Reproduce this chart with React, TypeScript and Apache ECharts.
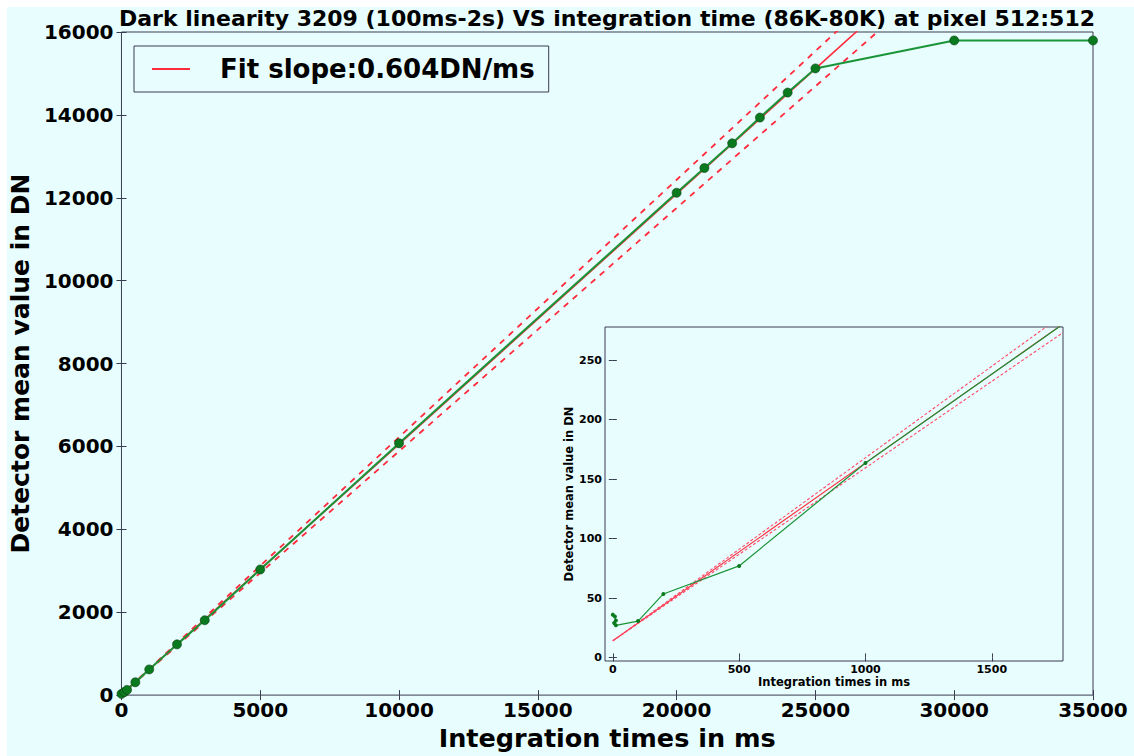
import React, { useEffect, useRef } from 'react';
import * as echarts from 'echarts';

const FONT = 'DejaVu Sans';
const BG = '#e8fdfd';
const AXIS = '#3a3d52';
const GREEN_LINE = '#1a9438';
const GREEN_MARK = '#0a7a1e';
const RED = '#ff2a3c';

const TITLE = 'Dark linearity 3209 (100ms-2s) VS integration time (86K-80K) at pixel 512:512';
const LEGEND_LABEL = 'Fit slope:0.604DN/ms';
const X_NAME = 'Integration times in ms';
const Y_NAME = 'Detector mean value in DN';

// Main panel: measured points
const MAIN_TIMES = [0, 100, 200, 500, 1000, 2000, 3000, 5000, 10000, 20000, 21000, 22000, 23000, 24000, 25000, 30000, 35000];
const MAIN_DN = [30, 72, 126, 310, 620, 1224, 1807, 3031, 6077, 12121, 12718, 13314, 13935, 14539, 15121, 15796, 15796];

// Main panel: fit line and its bounds (end points)
const MAIN_FIT_X = [0, 35000];
const MAIN_FIT = [15, 21155];
const MAIN_FIT_UP = [15, 21750];
const MAIN_FIT_LOW = [15, 20560];

// Main axes
const MAIN_X_TICKS = [0, 5000, 10000, 15000, 20000, 25000, 30000, 35000];
const MAIN_Y_TICKS = [0, 2000, 4000, 6000, 8000, 10000, 12000, 14000, 16000];

// Inset panel: measured points
const INSET_TIMES = [0, 8, 12, 5, 12, 100, 200, 500, 1000, 2000];
const INSET_DN = [36, 34.5, 31, 29, 27, 30.6, 53.4, 77, 163.6, 313];

// Inset panel: fit line and bounds (end points)
const INSET_FIT_X = [0, 1782];
const INSET_FIT = [14, 280.6];
const INSET_FIT_UP = [14, 288.4];
const INSET_FIT_LOW = [14, 273.3];

// Inset axes
const INSET_X_TICKS = [0, 500, 1000, 1500];
const INSET_Y_TICKS = [0, 50, 100, 150, 200, 250];

const pairs = (xs: number[], ys: number[]) => xs.map((x, i) => [x, ys[i]]);
const plain = (v: number) => String(v);

export default function App() {
  const ref = useRef<HTMLDivElement>(null);

  useEffect(() => {
    if (!ref.current) return;
    const chart = echarts.init(ref.current, undefined, { renderer: 'svg' });

    const tickStyle = { lineStyle: { color: AXIS, width: 1 } };

    const mainXAxisBase = {
      type: 'value' as const,
      gridIndex: 0,
      min: 0,
      max: 35000,
      interval: 5000,
      splitLine: { show: false },
      axisLine: { show: false },
    };
    const mainYAxisBase = {
      type: 'value' as const,
      gridIndex: 0,
      min: 0,
      max: 16000,
      interval: 2000,
      splitLine: { show: false },
      axisLine: { show: false },
    };
    const insetXBase = {
      type: 'value' as const,
      gridIndex: 1,
      min: -31,
      max: 1782,
      splitLine: { show: false },
      axisLine: { show: false },
    };
    const insetYBase = {
      type: 'value' as const,
      gridIndex: 1,
      min: -3,
      max: 278,
      splitLine: { show: false },
      axisLine: { show: false },
    };

    const option: any = {
      animation: false,
      backgroundColor: 'transparent',
      title: {
        text: TITLE,
        left: 607,
        textAlign: 'center',
        top: 7,
        padding: 0,
        textStyle: { fontFamily: FONT, fontWeight: 'bold', fontSize: 22, color: '#000' },
      },
      legend: {
        data: [LEGEND_LABEL],
        left: 134,
        top: 46,
        icon: 'rect',
        itemWidth: 38,
        itemHeight: 2,
        padding: [10, 14, 10, 18],
        borderColor: AXIS,
        borderWidth: 1,
        backgroundColor: BG,
        borderRadius: 0,
        selectedMode: false,
        textStyle: {
          fontFamily: FONT,
          fontWeight: 'bold',
          fontSize: 26,
          color: '#000',
          padding: [0, 0, 0, 25],
        },
      },
      grid: [
        {
          left: 121,
          top: 32,
          width: 972,
          height: 671,
          show: true,
          borderColor: AXIS,
          borderWidth: 1,
          backgroundColor: 'transparent',
        },
        {
          left: 605,
          top: 327,
          width: 458,
          height: 334,
          show: true,
          borderColor: AXIS,
          borderWidth: 1,
          backgroundColor: BG,
        },
      ],
      xAxis: [
        {
          ...mainXAxisBase,
          position: 'bottom',
          name: X_NAME,
          nameLocation: 'middle',
          nameGap: 27,
          nameTextStyle: { fontFamily: FONT, fontWeight: 'bold', fontSize: 25.5, color: '#000' },
          axisTick: { inside: true, length: 5, customValues: MAIN_X_TICKS, ...tickStyle },
          axisLabel: {
            margin: 5,
            customValues: MAIN_X_TICKS,
            formatter: plain,
            fontFamily: FONT,
            fontWeight: 'bold',
            fontSize: 20,
            color: '#000',
          },
        },
        {
          ...mainXAxisBase,
          position: 'top',
          axisTick: { inside: true, length: 5, ...tickStyle },
          axisLabel: { show: false },
        },
        {
          ...insetXBase,
          position: 'bottom',
          name: X_NAME,
          nameLocation: 'middle',
          nameGap: 15,
          nameTextStyle: { fontFamily: FONT, fontWeight: 'bold', fontSize: 11.5, color: '#000' },
          axisTick: { inside: true, length: 4, customValues: INSET_X_TICKS, ...tickStyle },
          axisLabel: {
            margin: 3,
            customValues: INSET_X_TICKS,
            formatter: plain,
            fontFamily: FONT,
            fontWeight: 'bold',
            fontSize: 11,
            color: '#000',
          },
        },
        {
          ...insetXBase,
          position: 'top',
          axisTick: { inside: true, length: 4, customValues: INSET_X_TICKS, ...tickStyle },
          axisLabel: { show: false, customValues: INSET_X_TICKS },
        },
      ],
      yAxis: [
        {
          ...mainYAxisBase,
          position: 'left',
          name: Y_NAME,
          nameLocation: 'middle',
          nameRotate: 90,
          nameGap: 82,
          nameTextStyle: { fontFamily: FONT, fontWeight: 'bold', fontSize: 25, color: '#000' },
          axisTick: { inside: true, length: 5, customValues: MAIN_Y_TICKS, ...tickStyle },
          axisLabel: {
            margin: 8,
            customValues: MAIN_Y_TICKS,
            formatter: plain,
            fontFamily: FONT,
            fontWeight: 'bold',
            fontSize: 20,
            color: '#000',
          },
        },
        {
          ...mainYAxisBase,
          position: 'right',
          axisTick: { inside: true, length: 5, ...tickStyle },
          axisLabel: { show: false },
        },
        {
          ...insetYBase,
          position: 'left',
          name: Y_NAME,
          nameLocation: 'middle',
          nameRotate: 90,
          nameGap: 29,
          nameTextStyle: { fontFamily: FONT, fontWeight: 'bold', fontSize: 11.5, color: '#000' },
          axisTick: { inside: true, length: 4, customValues: INSET_Y_TICKS, ...tickStyle },
          axisLabel: {
            margin: 3,
            customValues: INSET_Y_TICKS,
            formatter: plain,
            fontFamily: FONT,
            fontWeight: 'bold',
            fontSize: 11,
            color: '#000',
          },
        },
        {
          ...insetYBase,
          position: 'right',
          axisTick: { inside: true, length: 4, customValues: INSET_Y_TICKS, ...tickStyle },
          axisLabel: { show: false, customValues: INSET_Y_TICKS },
        },
      ],
      series: [
        {
          name: LEGEND_LABEL,
          type: 'line',
          xAxisIndex: 0,
          yAxisIndex: 0,
          data: pairs(MAIN_FIT_X, MAIN_FIT),
          showSymbol: false,
          symbol: 'none',
          clip: true,
          itemStyle: { color: RED },
          lineStyle: { color: RED, width: 1.6 },
        },
        {
          name: 'fit upper',
          type: 'line',
          xAxisIndex: 0,
          yAxisIndex: 0,
          data: pairs(MAIN_FIT_X, MAIN_FIT_UP),
          symbol: 'none',
          clip: true,
          lineStyle: { color: RED, width: 1.8, type: [6, 6] },
        },
        {
          name: 'fit lower',
          type: 'line',
          xAxisIndex: 0,
          yAxisIndex: 0,
          data: pairs(MAIN_FIT_X, MAIN_FIT_LOW),
          symbol: 'none',
          clip: true,
          lineStyle: { color: RED, width: 1.8, type: [6, 6] },
        },
        {
          name: 'data',
          type: 'line',
          xAxisIndex: 0,
          yAxisIndex: 0,
          data: pairs(MAIN_TIMES, MAIN_DN),
          symbol: 'circle',
          symbolSize: 9,
          clip: false,
          lineStyle: { color: GREEN_LINE, width: 2 },
          itemStyle: { color: GREEN_MARK, borderColor: '#0b3d12', borderWidth: 0.6 },
        },
        {
          name: 'inset fit',
          type: 'line',
          xAxisIndex: 2,
          yAxisIndex: 2,
          data: pairs(INSET_FIT_X, INSET_FIT),
          symbol: 'none',
          clip: true,
          lineStyle: { color: RED, width: 1.1 },
        },
        {
          name: 'inset fit upper',
          type: 'line',
          xAxisIndex: 2,
          yAxisIndex: 2,
          data: pairs(INSET_FIT_X, INSET_FIT_UP),
          symbol: 'none',
          clip: true,
          lineStyle: { color: '#ff4a6a', width: 1.1, type: [3, 2] },
        },
        {
          name: 'inset fit lower',
          type: 'line',
          xAxisIndex: 2,
          yAxisIndex: 2,
          data: pairs(INSET_FIT_X, INSET_FIT_LOW),
          symbol: 'none',
          clip: true,
          lineStyle: { color: '#ff4a6a', width: 1.1, type: [3, 2] },
        },
        {
          name: 'inset data',
          type: 'line',
          xAxisIndex: 2,
          yAxisIndex: 2,
          data: pairs(INSET_TIMES, INSET_DN),
          symbol: 'circle',
          symbolSize: 4,
          clip: true,
          lineStyle: { color: GREEN_LINE, width: 1.2 },
          itemStyle: { color: GREEN_MARK, borderWidth: 0 },
        },
      ],
    };

    chart.setOption(option);
    return () => chart.dispose();
  }, []);

  return (
    <div
      style={{
        position: 'fixed',
        left: 0,
        top: 0,
        width: 1134,
        height: 756,
        background: `linear-gradient(${BG}, ${BG}) 7px 7px / 100% 100% no-repeat, #ffffff`,
      }}
    >
      <div ref={ref} style={{ width: 1134, height: 756 }} />
    </div>
  );
}
